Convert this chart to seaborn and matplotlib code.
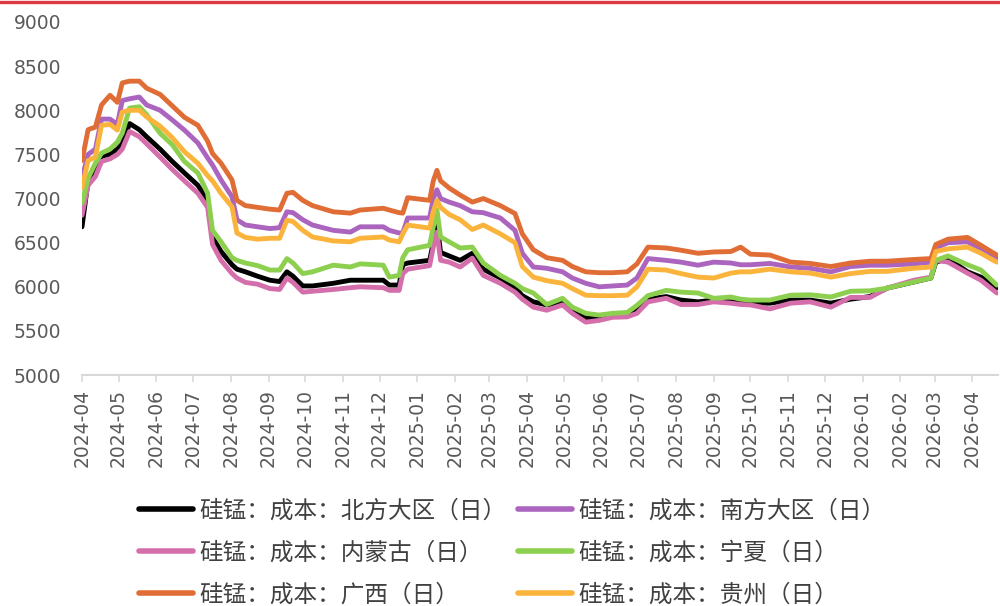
import pandas as pd
import numpy as np
import matplotlib
matplotlib.use("Agg")
import matplotlib.pyplot as plt
import matplotlib.dates as mdates
from matplotlib.lines import Line2D
import seaborn as sns

#Key dates
dates = ["2024-04-01","2024-04-06","2024-04-12","2024-04-17","2024-04-24","2024-04-30","2024-05-04","2024-05-10","2024-05-18","2024-05-24",
         "2024-06-04","2024-06-14","2024-06-24","2024-07-05","2024-07-13","2024-07-17","2024-07-24","2024-08-02","2024-08-06","2024-08-13",
         "2024-08-23","2024-09-02","2024-09-10","2024-09-16","2024-09-21","2024-09-29","2024-10-07","2024-10-24","2024-11-07","2024-11-15",
         "2024-12-04","2024-12-09","2024-12-17","2024-12-20","2024-12-24","2025-01-11","2025-01-14","2025-01-17","2025-01-20","2025-01-27",
         "2025-02-05","2025-02-15","2025-02-24","2025-03-10","2025-03-22","2025-03-28","2025-04-06","2025-04-17","2025-04-30","2025-05-08",
         "2025-05-19","2025-05-30","2025-06-10","2025-06-22","2025-06-30","2025-07-09","2025-07-24","2025-08-05","2025-08-19","2025-09-01",
         "2025-09-15","2025-09-23","2025-10-01","2025-10-17","2025-11-03","2025-11-19","2025-12-06","2025-12-22","2026-01-07","2026-01-21",
         "2026-02-12","2026-02-26","2026-03-02","2026-03-12","2026-03-28","2026-04-08","2026-04-21"]

#Cost series (yuan/ton)
north = [6680,7200,7300,7480,7500,7560,7620,7850,7780,7700,
         7560,7420,7290,7150,6980,6560,6400,6250,6200,6170,
         6120,6075,6060,6170,6120,6010,6010,6040,6075,6075,
         6075,6020,6020,6250,6270,6300,6500,6720,6390,6350,
         6300,6380,6200,6100,5990,5900,5830,5795,5830,5740,
         5645,5650,5670,5680,5740,5860,5890,5850,5830,5850,
         5830,5830,5815,5815,5850,5850,5815,5860,5890,5985,
         6055,6100,6280,6320,6170,6110,5990]
south = [7230,7500,7560,7900,7900,7840,8110,8130,8150,8060,
         8000,7890,7775,7630,7460,7380,7210,7020,6760,6700,
         6680,6660,6670,6850,6840,6760,6700,6640,6620,6680,
         6680,6640,6610,6610,6780,6780,7000,7100,7000,6960,
         6920,6850,6840,6780,6640,6380,6225,6210,6170,6100,
         6040,6000,6010,6020,6100,6320,6300,6280,6245,6280,
         6270,6250,6250,6265,6225,6210,6170,6230,6245,6245,
         6260,6280,6440,6500,6510,6430,6320]
neimenggu = [6810,7150,7250,7420,7450,7500,7560,7760,7700,7620,
             7470,7330,7200,7060,6900,6480,6300,6150,6100,6050,
             6030,5980,5970,6100,6050,5940,5950,5970,5990,6000,
             5990,5960,5960,6150,6200,6240,6450,6620,6300,6280,
             6225,6325,6130,6040,5940,5860,5770,5735,5795,5700,
             5600,5620,5655,5660,5700,5830,5870,5800,5800,5830,
             5815,5800,5795,5750,5815,5830,5770,5880,5880,5985,
             6075,6110,6300,6280,6155,6075,5930]
ningxia = [6950,7230,7400,7515,7560,7640,7740,8025,8040,7950,
           7740,7610,7420,7290,7060,6640,6510,6330,6300,6270,
           6240,6190,6190,6320,6270,6150,6170,6245,6225,6260,
           6245,6110,6130,6330,6420,6470,6680,6870,6565,6510,
           6440,6450,6270,6130,6040,5980,5930,5800,5870,5770,
           5700,5680,5700,5710,5790,5900,5960,5940,5930,5870,
           5885,5860,5850,5850,5905,5910,5885,5950,5955,5985,
           6055,6100,6300,6350,6250,6190,6020]
guangxi = [7430,7780,7810,8060,8170,8090,8310,8330,8330,8250,
           8180,8050,7920,7830,7650,7510,7400,7210,6980,6920,
           6900,6880,6870,7060,7070,6980,6920,6850,6835,6870,
           6890,6870,6840,6835,7010,6980,7200,7320,7200,7120,
           7040,6960,7000,6920,6830,6600,6420,6330,6300,6230,
           6170,6160,6160,6170,6260,6450,6440,6415,6380,6395,
           6400,6450,6370,6360,6280,6265,6230,6270,6290,6290,
           6310,6320,6480,6540,6560,6470,6360]
guizhou = [7120,7430,7470,7830,7840,7775,7980,8000,8000,7925,
           7820,7690,7530,7400,7260,7200,7060,6905,6610,6560,
           6540,6550,6550,6755,6740,6640,6565,6520,6510,6550,
           6565,6530,6510,6600,6700,6665,6850,6980,6900,6820,
           6760,6650,6700,6600,6500,6230,6110,6070,6040,5980,
           5905,5900,5900,5905,6000,6200,6190,6150,6110,6100,
           6155,6170,6170,6200,6170,6155,6110,6150,6175,6175,
           6210,6225,6400,6430,6450,6380,6280]

labels = ["硅锰：成本：北方大区（日）", "硅锰：成本：南方大区（日）", "硅锰：成本：内蒙古（日）",
          "硅锰：成本：宁夏（日）", "硅锰：成本：广西（日）", "硅锰：成本：贵州（日）"]
colors = ["#000000", "#ab65bf", "#d46fab", "#8dcf4f", "#e06d36", "#fbb43b"]

DFwide = pd.DataFrame({"date": pd.to_datetime(dates)})
for lab, vals in zip(labels, [north, south, neimenggu, ningxia, guangxi, guizhou]):
    DFwide[lab] = vals
DFlong = DFwide.melt(id_vars="date", var_name="series", value_name="value")

sns.set_theme(style="white")
plt.rcParams['font.family'] = ['DejaVu Sans', 'Noto Sans CJK SC']

fig, ax = plt.subplots(figsize=(10, 6.06), dpi=100)
fig.subplots_adjust(left=0.082, right=0.998, bottom=0.381, top=0.9637)

sns.lineplot(data=DFlong, x="date", y="value", hue="series", hue_order=labels,
             palette=colors, linewidth=3.5, ax=ax)

ax.set_ylim(5000, 9000)
ax.set_yticks(np.arange(5000, 9001, 500))
ax.set_xlim(pd.Timestamp("2024-04-01"), pd.Timestamp("2026-04-22"))
ax.xaxis.set_major_locator(mdates.MonthLocator())
ax.xaxis.set_major_formatter(mdates.DateFormatter("%Y-%m"))
ax.set_xlabel("")
ax.set_ylabel("")
for lab in ax.get_xticklabels():
    lab.set_rotation(90)

for side in ["left", "right", "top"]:
    ax.spines[side].set_visible(False)
ax.spines["bottom"].set_color("#d9d9d9")
ax.spines["bottom"].set_linewidth(1.5)
ax.tick_params(axis="y", length=0, pad=15, labelsize=13.5, labelcolor="#595959")
ax.tick_params(axis="x", bottom=True, length=5, width=1.2, color="#d9d9d9", pad=5,
               labelsize=13.5, labelcolor="#595959")

#Legend in row order: col1 = north, neimenggu, guangxi; col2 = south, ningxia, guizhou
handles, labs = ax.get_legend_handles_labels()
ax.get_legend().remove()
order = [0, 2, 4, 1, 3, 5]
leg = fig.legend([handles[i] for i in order], [labs[i] for i in order], ncol=2,
                 loc="center", bbox_to_anchor=(0.512, 0.0875), frameon=False,
                 prop={"family": ["Noto Sans CJK SC"], "size": 17},
                 handlelength=2.3, handletextpad=0.25, columnspacing=0.5,
                 labelspacing=0.8, labelcolor="#404040")
for h in leg.get_lines():
    h.set_linewidth(4)

#Red rule across the top
fig.add_artist(Line2D([0, 1], [0.9965, 0.9965], transform=fig.transFigure,
                      color="#dc3a40", linewidth=2.4))

fig.savefig("out.png", dpi=100)
plt.close(fig)
